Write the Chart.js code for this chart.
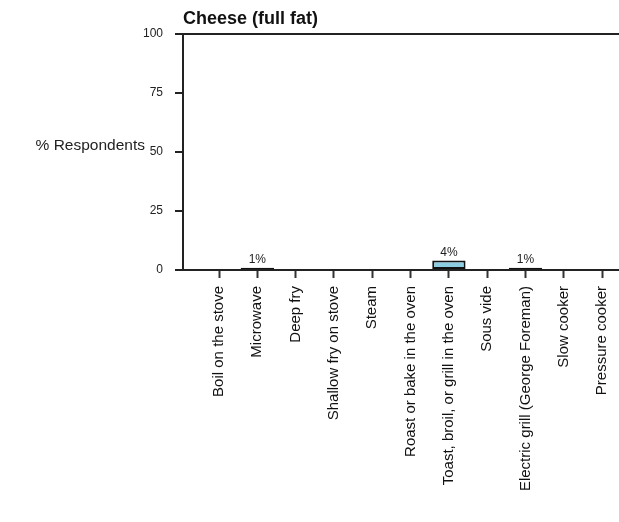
<!DOCTYPE html>
<html>
<head>
<meta charset="utf-8">
<script src="https://cdn.jsdelivr.net/npm/chart.js@4/dist/chart.umd.min.js"></script>
<style>
  html, body { margin: 0; padding: 0; background: #fff; }
  canvas { display: block; }
</style>
</head>
<body>
<canvas id="bars" width="619" height="522"></canvas>
<script>
const categories = [
  'Boil on the stove',
  'Microwave',
  'Deep fry',
  'Shallow fry on stove',
  'Steam',
  'Roast or bake in the oven',
  'Toast, broil, or grill in the oven',
  'Sous vide',
  'Electric grill (George Foreman)',
  'Slow cooker',
  'Pressure cooker'
];
const percents = [0, 1, 0, 0, 0, 0, 4, 0, 1, 0, 0];
const yTicks = [0, 25, 50, 75, 100];
const chartTitle = 'Cheese (full fat)';
const yTitle = '% Respondents';

// labels above the non-zero bars + the horizontal y title
const extras = {
  id: 'extras',
  afterDatasetsDraw(chart) {
    const ctx = chart.ctx;
    const meta = chart.getDatasetMeta(0);
    ctx.save();
    ctx.fillStyle = '#222';
    ctx.font = '12px Arial, "Liberation Sans", sans-serif';
    ctx.textAlign = 'center';
    ctx.textBaseline = 'bottom';
    meta.data.forEach((bar, i) => {
      if (percents[i] > 0) {
        ctx.fillText(percents[i] + '%', bar.x, bar.y - 2);
      }
    });
    const y = chart.scales.y;
    ctx.font = '15.5px Arial, "Liberation Sans", sans-serif';
    ctx.textAlign = 'right';
    ctx.textBaseline = 'middle';
    ctx.fillText(yTitle, 145, y.getPixelForValue(50) - 6);
    ctx.restore();
  }
};

let ctx = document.getElementById('bars').getContext('2d');
window.myBar = new Chart(ctx, {
  type: 'bar',
  data: {
    datasets: [{
      data: percents.map((v, i) => ({ x: i, y: v })),
      backgroundColor: '#8ccde2',
      borderColor: '#111',
      borderWidth: 2,
      borderSkipped: false,
      categoryPercentage: 1,
      barPercentage: 0.87
    }]
  },
  options: {
    responsive: false,
    animation: false,
    layout: { padding: { left: 0, right: 0, top: 0, bottom: 0 } },
    plugins: {
      legend: { display: false },
      tooltip: { enabled: false },
      title: {
        display: true,
        text: chartTitle,
        align: 'start',
        fullSize: false,
        color: '#111',
        font: { family: 'Arial, "Liberation Sans", sans-serif', size: 18, weight: 'bold' },
        padding: { top: 8, bottom: 4 }
      }
    },
    scales: {
      x: {
        type: 'linear',
        offset: false,
        min: -0.94,
        max: 10.44,
        afterFit: (s) => { s.height = 252; s.paddingLeft = 0; s.paddingRight = 0; },
        border: { color: '#222', width: 2 },
        grid: { offset: false, drawOnChartArea: false, tickLength: 8, tickColor: '#333', tickWidth: 2 },
        ticks: {
          stepSize: 1,
          includeBounds: false,
          autoSkip: false,
          minRotation: 90,
          maxRotation: 90,
          padding: 8,
          color: '#111',
          font: { family: 'Arial, "Liberation Sans", sans-serif', size: 15 },
          callback: (v) => categories[v] ?? ''
        }
      },
      y: {
        min: 0,
        max: 100,
        afterFit: (s) => { s.width = 183; },
        afterBuildTicks: (s) => { s.ticks = yTicks.map(v => ({ value: v })); },
        border: { color: '#222', width: 2 },
        grid: {
          color: (c) => c.tick && c.tick.value === 100 ? '#222' : 'rgba(0,0,0,0)',
          lineWidth: 2,
          tickLength: 8,
          tickColor: '#222',
          tickWidth: 2
        },
        ticks: {
          padding: 12,
          color: '#222',
          font: { family: 'Arial, "Liberation Sans", sans-serif', size: 12 }
        }
      }
    }
  },
  plugins: [extras]
});
</script>
</body>
</html>
